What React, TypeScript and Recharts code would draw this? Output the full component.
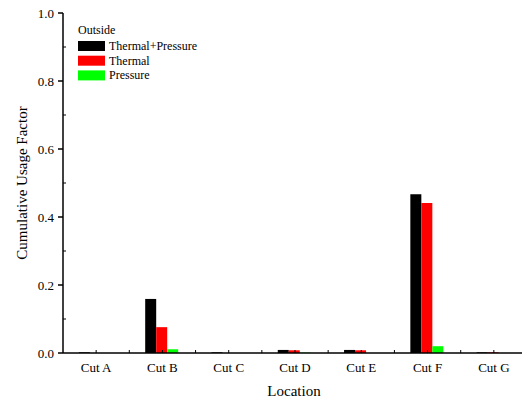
import React from 'react';
import { BarChart, Bar, XAxis, YAxis } from 'recharts';

const categories = ['Cut A', 'Cut B', 'Cut C', 'Cut D', 'Cut E', 'Cut F', 'Cut G'];
const thermalPressure = [0.002, 0.159, 0.002, 0.009, 0.009, 0.467, 0.002];
const thermal = [0, 0.076, 0, 0.008, 0.008, 0.441, 0.002];
const pressure = [0, 0.011, 0, 0.001, 0, 0.02, 0];
const yTicks = [0, 0.1, 0.2, 0.3, 0.4, 0.5, 0.6, 0.7, 0.8, 0.9, 1.0];
const legendTitle = 'Outside';
const series = [
  { key: 'tp', name: 'Thermal+Pressure', color: '#000000' },
  { key: 't', name: 'Thermal', color: '#FF0000' },
  { key: 'p', name: 'Pressure', color: '#00FF00' },
];

const data = categories.map((c, i) => ({
  cat: c,
  tp: thermalPressure[i],
  t: thermal[i],
  p: pressure[i],
}));

const FONT = "'Liberation Serif', 'Times New Roman', Times, serif";

const halfBand = (props: any) => {
  const w = Number(props.width);
  const n = Number(props.visibleTicksCount) || categories.length;
  return w > 0 ? w / n / 2 : 0;
};

const YTick = (props: any) => {
  const { x, y, payload } = props;
  const v = payload.value as number;
  const major = Math.round(v * 10) % 2 === 0;
  return major ? (
    <g>
      <path d={`M${x - 5},${y}H${x}`} stroke="#000" strokeWidth={1.5} fill="none" />
      <text x={x - 9} y={y + 4.5} textAnchor="end" fontSize={13} fontFamily={FONT} fill="#000">
        {v.toFixed(1)}
      </text>
    </g>
  ) : (
    <path d={`M${x},${y}H${x + 3}`} stroke="#000" strokeWidth={1} fill="none" />
  );
};

const XTick = (props: any) => {
  const { x, y, payload } = props;
  const h = halfBand(props);
  return (
    <g>
      <path d={`M${x},${y}V${y - 3}`} stroke="#000" strokeWidth={1} fill="none" />
      {h > 0 && <path d={`M${x + h},${y}V${y - 3}`} stroke="#000" strokeWidth={1} fill="none" />}
      <text x={x} y={y + 19} textAnchor="middle" fontSize={13} fontFamily={FONT} fill="#000">
        {payload.value}
      </text>
    </g>
  );
};

const TopTick = (props: any) => {
  const { x, y } = props;
  const h = halfBand(props);
  return (
    <g>
      <path d={`M${x},${y}V${y + 3}`} stroke="#000" strokeWidth={1} fill="none" />
      {h > 0 && <path d={`M${x + h},${y}V${y + 3}`} stroke="#000" strokeWidth={1} fill="none" />}
    </g>
  );
};

export default function App() {
  return (
    <div style={{ position: 'fixed', left: 0, top: 0, width: 522, height: 400, overflow: 'hidden', background: '#fff' }}>
      <BarChart
        width={540}
        height={400}
        data={data}
        margin={{ top: 13, right: 13, left: 0, bottom: 0 }}
        barCategoryGap="24%"
        barGap={0}
      >
        <XAxis
          dataKey="cat"
          height={47}
          stroke="#000"
          axisLine={{ stroke: '#000', strokeWidth: 1.5 }}
          tickLine={false}
          tickSize={0}
          tickMargin={0}
          tick={<XTick />}
          interval={0}
          label={{
            content: () => (
              <text x={294} y={396} textAnchor="middle" fontSize={15} fontFamily={FONT} fill="#000">
                Location
              </text>
            ),
          }}
        />
        <XAxis
          xAxisId="top"
          dataKey="cat"
          orientation="top"
          height={0}
          stroke="#000"
          axisLine={{ stroke: '#000', strokeWidth: 1.5 }}
          tickLine={false}
          tickSize={0}
          tickMargin={0}
          tick={<TopTick />}
          interval={0}
        />
        <YAxis
          width={63}
          domain={[0, 1]}
          ticks={yTicks}
          interval={0}
          stroke="#000"
          axisLine={{ stroke: '#000', strokeWidth: 1.5 }}
          tickLine={false}
          tickSize={0}
          tickMargin={0}
          tick={<YTick />}
          label={{
            content: () => (
              <text
                x={27}
                y={183}
                transform="rotate(-90, 27, 183)"
                textAnchor="middle"
                fontSize={15}
                fontFamily={FONT}
                fill="#000"
              >
                Cumulative Usage Factor
              </text>
            ),
          }}
        />
        {series.map((s) => (
          <Bar key={s.key} dataKey={s.key} name={s.name} fill={s.color} isAnimationActive={false} />
        ))}
      </BarChart>
      <svg width={200} height={90} style={{ position: 'absolute', left: 0, top: 0, pointerEvents: 'none' }}>
        <text x={78} y={34} fontSize={12} fontFamily={FONT} fill="#000">
          {legendTitle}
        </text>
        {series.map((s, i) => (
          <g key={s.key}>
            <rect x={78} y={41 + i * 14.7} width={27} height={10} fill={s.color} />
            <text x={109} y={50 + i * 14.7} fontSize={12} fontFamily={FONT} fill="#000">
              {s.name}
            </text>
          </g>
        ))}
      </svg>
    </div>
  );
}
